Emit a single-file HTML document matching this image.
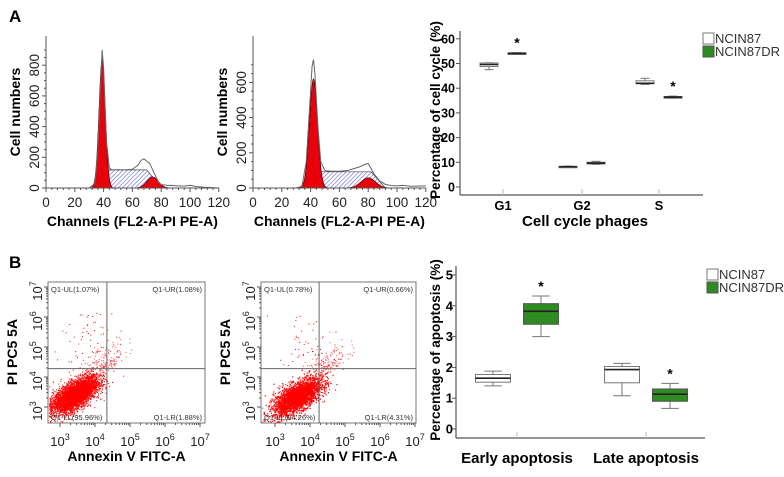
<!DOCTYPE html>
<html><head><meta charset="utf-8">
<style>
body{margin:0;background:#fff;}
svg{display:block;font-family:"Liberation Sans",Arial,sans-serif;}
.b{font-weight:bold;}
</style></head>
<body>
<svg id="fig" width="784" height="477" viewBox="0 0 784 477" xmlns="http://www.w3.org/2000/svg">
<defs>
<pattern id="hatch" patternUnits="userSpaceOnUse" width="3" height="3" patternTransform="rotate(45)">
<rect width="3" height="3" fill="#fff"/><line x1="0" y1="0" x2="0" y2="3" stroke="#6464d0" stroke-width="1.2"/>
</pattern>
</defs>
<text x="9" y="22" class="b" font-size="17">A</text>
<text x="9" y="268" class="b" font-size="17">B</text>
<g id="root"></g>
</svg>
<script>
// ---------- data ----------
// histogram model components: [G1 mean, G1 sd, G1 height, S start, S end, S level, G2 mean, G2 sd, G2 height]
const hist1Model = [39, 2.2, 840, 43, 70, 118, 74, 4, 72];
const hist2Model = [42, 2.8, 620, 47, 82, 92, 80, 5, 58];
// outline (channel, count)
const hist1OutlineX = [30,34,36,38,39,40,42,44,46,50,55,60,64,66,68,70,72,74,76,78,80,84,90,96,100,104,110,120];
const hist1OutlineY = [0,30,250,700,900,780,300,130,118,120,118,122,150,180,190,175,160,120,80,40,22,18,15,12,18,10,5,0];
const hist2OutlineX = [30,34,37,39,41,42,43,45,47,50,55,60,66,70,74,78,80,82,84,88,92,96,100,104,110,120];
const hist2OutlineY = [0,10,150,420,690,730,650,360,150,98,95,95,100,110,120,135,140,110,80,40,20,14,12,15,10,12];
const histTicksX = [0,20,40,60,80,100,120];
const hist1TicksY = [0,200,400,600,800];
const hist2TicksY = [0,200,400,600];

const ccCategories = ["G1","G2","S"];
// [min,q1,median,q3,max]
const ccNCIN87 = [[47.5,48.8,49.6,50.2,50.3],[7.9,8.0,8.2,8.4,8.5],[41.5,41.8,42.0,43.0,44.0]];
const ccNCIN87DR = [[53.8,54.0,54.1,54.3,54.4],[9.2,9.4,9.6,10.0,10.4],[36.0,36.2,36.4,36.6,36.8]];
const ccStars = [0,2];
const ccTicks = [0,10,20,30,40,50,60];

const apCategories = ["Early apoptosis","Late apoptosis"];
const apNCIN87 = [[1.40,1.52,1.65,1.77,1.88],[1.08,1.50,1.93,2.03,2.13]];
const apNCIN87DR = [[3.00,3.40,3.82,4.07,4.32],[0.67,0.90,1.13,1.30,1.48]];
const apTicks = [0,1,2,3,4,5];

const flow1Quadrants = ["Q1-UL(1.07%)","Q1-UR(1.08%)","Q1-LL(95.96%)","Q1-LR(1.88%)"];
const flow2Quadrants = ["Q1-UL(0.78%)","Q1-UR(0.66%)","Q1-LL(94.26%)","Q1-LR(4.31%)"];
// cluster center (log10 x, log10 y), sd x, sd y, correlation
const flow1Cluster = [3.43, 3.42, 0.32, 0.30, 0.65];
const flow2Cluster = [3.63, 3.35, 0.34, 0.30, 0.65];
const flow1Gate = [4.34, 4.28];
const flow2Gate = [4.26, 4.28];
const logTicks = [3,4,5,6,7];

// ---------- helpers ----------
const NS="http://www.w3.org/2000/svg";
const root=document.getElementById('root');
function mk(tag,attrs,parent){const e=document.createElementNS(NS,tag);for(const k in attrs)e.setAttribute(k,attrs[k]);(parent||root).appendChild(e);return e;}
function txt(x,y,s,size,extra,parent){const e=mk('text',Object.assign({x:x,y:y,'font-size':size},extra||{}),parent);e.textContent=s;return e;}

// ---------- histograms ----------
function histogram(ox,model,oX,oY,ticksY,yPerUnit,name){
  const g=mk('g',{});
  
  
  const x0=ox, y0=188, xs=1.44;
  const X=c=>x0+c*xs, Y=v=>y0-v*yPerUnit;
  const [m1,s1,h1,sa,sb,sl,m2,s2,h2]=model;
  const gauss=(c,m,s,h)=>h*Math.exp(-0.5*((c-m)/s)**2);
  let sp=[];
  for(let c=sa-8;c<=sb+10;c+=0.5){
    let v=sl;
    if(c<sa) v=sl*Math.max(0,(c-(sa-8))/8);
    if(c>sb) v=sl*Math.max(0,1-(c-sb)/10);
    sp.push(X(c)+','+Y(v));
  }
  const s=mk('polygon',{points:X(sa-8)+','+y0+' '+sp.join(' ')+' '+X(sb+10)+','+y0,fill:'url(#hatch)',stroke:'#444','stroke-width':0.7},g);
  
  
  function peak(m,sd,h,n){
    let p=[];for(let c=m-4*sd;c<=m+4*sd;c+=0.25)p.push(X(c)+','+Y(gauss(c,m,sd,h)));
    const e=mk('polygon',{points:X(m-4*sd)+','+y0+' '+p.join(' ')+' '+X(m+4*sd)+','+y0,fill:'#e8000b',stroke:'#300','stroke-width':0.6},g);
    
    
  }
  peak(m1,s1,h1,'g1-peak');peak(m2,s2,h2,'g2-peak');
  const ol=mk('polyline',{points:oX.map((c,i)=>X(c)+','+Y(oY[i])).join(' '),fill:'none',stroke:'#666','stroke-width':1},g);
  
  
  mk('line',{x1:x0,y1:36,x2:x0,y2:y0,stroke:'#555','stroke-width':1},g);
  mk('line',{x1:x0,y1:y0,x2:X(120),y2:y0,stroke:'#555','stroke-width':1},g);
  for(let c=0;c<=120;c+=4){mk('line',{x1:X(c),y1:y0,x2:X(c),y2:y0+(c%20==0?4:2),stroke:'#555'},g);}
  histTicksX.forEach(t=>{const e=txt(X(t),207,String(t),13.5,{'text-anchor':'middle',fill:'#222'},g);});
  for(let v=0;v<=ticksY[ticksY.length-1]+100;v+=50){if(Y(v)<36)break;mk('line',{x1:x0-(v%200==0?4:2),y1:Y(v),x2:x0,y2:Y(v),stroke:'#555'},g);}
  ticksY.forEach(t=>{const e=txt(0,0,String(t),13.5,{'text-anchor':'middle',fill:'#222',transform:`translate(${x0-7},${Y(t)}) rotate(-90)`},g);});
  const yt=txt(0,0,'Cell numbers',14,{'text-anchor':'middle',class:'b',transform:`translate(${x0-26},112) rotate(-90)`},g);
  
  const xt=txt(X(60),226,'Channels (FL2-A-PI PE-A)',14,{'text-anchor':'middle',class:'b'},g);
  
}
histogram(46,hist1Model,hist1OutlineX,hist1OutlineY,hist1TicksY,0.1535,'histogram-ncin87');
histogram(253,hist2Model,hist2OutlineX,hist2OutlineY,hist2TicksY,0.176,'histogram-ncin87dr');

// ---------- box plots ----------
function boxplot(cfg){
  const g=mk('g',{});
  
  
  const Y=v=>cfg.y0-v*cfg.ppu;
  mk('line',{x1:cfg.ax,y1:cfg.top,x2:cfg.ax,y2:cfg.axY,stroke:'#555','stroke-width':1.2},g);
  mk('line',{x1:cfg.ax,y1:cfg.axY,x2:cfg.right,y2:cfg.axY,stroke:'#555','stroke-width':1.2},g);
  cfg.ticks.forEach(t=>{
    mk('line',{x1:cfg.ax-4,y1:Y(t),x2:cfg.ax,y2:Y(t),stroke:'#555'},g);
    const e=txt(cfg.ax-cfg.tgap,Y(t)+4.5,String(t),cfg.tsize,{'text-anchor':'end',class:'b'},g);
    
  });
  cfg.cats.forEach((c,i)=>{
    const cx=cfg.cx[i];
    mk('line',{x1:cx,y1:cfg.axY,x2:cx,y2:cfg.axY-6,stroke:'#bbb'},g);
    const e=txt(cx,cfg.catY,c,cfg.catSize,{'text-anchor':'middle',class:'b'},g);
    
    [[cfg.s1[i],-cfg.off,'#fff','#777','box-ncin87'],[cfg.s2[i],cfg.off,'#2e8b22','#555','box-ncin87dr']].forEach(([d,o,fill,st,n])=>{
      const bx=cx+o, w=cfg.bw;
      const bg=mk('g',{},g);
      
      
      mk('line',{x1:bx,y1:Y(d[0]),x2:bx,y2:Y(d[4]),stroke:'#777','stroke-width':1},bg);
      mk('line',{x1:bx-w/4,y1:Y(d[0]),x2:bx+w/4,y2:Y(d[0]),stroke:'#777'},bg);
      mk('line',{x1:bx-w/4,y1:Y(d[4]),x2:bx+w/4,y2:Y(d[4]),stroke:'#777'},bg);
      mk('rect',{x:bx-w/2,y:Y(d[3]),width:w,height:Math.max(1.5,Y(d[1])-Y(d[3])),fill:fill,stroke:st,'stroke-width':1},bg);
      mk('line',{x1:bx-w/2,y1:Y(d[2]),x2:bx+w/2,y2:Y(d[2]),stroke:'#222','stroke-width':1.6},bg);
    });
  });
  cfg.stars.forEach(i=>{const e=txt(cfg.cx[i]+cfg.off,Y(cfg.s2[i][4])-5,'*',14,{'text-anchor':'middle',class:'b'},g);});
  const yt=txt(0,0,cfg.ytitle,13.5,{'text-anchor':'middle',class:'b',transform:`translate(${cfg.ytx},${cfg.yty}) rotate(-90)`},g);
  
  if(cfg.xtitle){const xt=txt(cfg.xtx,cfg.xty,cfg.xtitle,15,{'text-anchor':'middle',class:'b'},g);}
  const lg=mk('g',{},g);
  
  
  const l1=mk('g',{},lg);
  
  
  mk('rect',{x:cfg.lx,y:cfg.ly,width:11,height:11,fill:'#fff',stroke:'#777'},l1);
  txt(cfg.lx+12,cfg.ly+10,'NCIN87',13,{fill:'#333'},l1);
  const l2=mk('g',{},lg);
  
  
  mk('rect',{x:cfg.lx,y:cfg.ly+13,width:11,height:11,fill:'#2e8b22',stroke:'#555'},l2);
  txt(cfg.lx+12,cfg.ly+23,'NCIN87DR',13,{fill:'#333'},l2);
}
boxplot({name:'cell-cycle-boxplot',ax:460,top:31,axY:195,right:703,y0:187,ppu:2.47,ticks:ccTicks,tgap:5,tsize:12.5,cats:ccCategories,cx:[503,582,659],off:14,bw:18,
  s1:ccNCIN87,s2:ccNCIN87DR,stars:ccStars,catY:210,catSize:13,ytitle:'Percentage of cell cycle (%)',ytx:440,yty:110,xtitle:'Cell cycle phages',xtx:585,xty:226,lx:703,ly:33});
boxplot({name:'apoptosis-boxplot',ax:456,top:266,axY:438,right:705,y0:429,ppu:30.8,ticks:apTicks,tgap:3,tsize:13,cats:apCategories,cx:[517,646],off:24,bw:35,
  s1:apNCIN87,s2:apNCIN87DR,stars:[0,1],catY:463,catSize:15,ytitle:'Percentage of apoptosis (%)',ytx:440,yty:350,xtitle:'',lx:707,ly:269});

// ---------- flow cytometry ----------
let seed=12345;
function rnd(){seed=(seed*1103515245+12345)%2147483648;return seed/2147483648;}
function nrm(){let u=rnd()||1e-6,v=rnd();return Math.sqrt(-2*Math.log(u))*Math.cos(2*Math.PI*v);}
function flow(bx,right,x3,name,quads,cluster,gate){
  const g=mk('g',{});
  
  
  const top=282, bot=423;
  const X=l=>x3+(l-3)*35, Y=l=>407-(l-3)*30;
  mk('rect',{x:bx,y:top,width:right-bx,height:bot-top,fill:'#fff',stroke:'#777','stroke-width':1},g);
  const dots=mk('g',{fill:'#f00'},g);
  
  
  const [mx,my,sx,sy,r]=cluster;
  for(let i=0;i<5000;i++){
    const a=nrm(),b=nrm();
    let lx=mx+sx*a, ly=my+sy*(r*a+Math.sqrt(1-r*r)*b);
    let px=X(lx),py=Y(ly);
    if(px<bx+1)px=bx+1+rnd()*2;
    if(py>bot-1)py=bot-1-rnd()*2;
    if(px>right||py<top)continue;
    mk('rect',{x:px.toFixed(1),y:py.toFixed(1),width:1.1,height:1.1,opacity:0.85},dots);
  }
  for(let i=0;i<220;i++){
    const a=nrm(),b=nrm();
    const lx=mx+0.7+0.35*a, ly=my+0.6+0.45*Math.abs(b)+0.3*a;
    const px=X(lx),py=Y(ly);
    if(px>bx&&px<right&&py>top&&py<bot)mk('rect',{x:px.toFixed(1),y:py.toFixed(1),width:1,height:1,opacity:0.7},dots);
  }
  for(let i=0;i<50;i++){
    const px=X(mx+0.3+0.5*nrm()), py=Y(my+1+1.8*rnd());
    if(px>bx&&px<right&&py>top&&py<bot)mk('rect',{x:px.toFixed(1),y:py.toFixed(1),width:1,height:1},dots);
  }
  const gx=X(gate[0]), gy=Y(gate[1]);
  mk('line',{x1:gx,y1:top,x2:gx,y2:bot,stroke:'#666'},g);
  mk('line',{x1:bx,y1:gy,x2:right,y2:gy,stroke:'#666'},g);
  const qa=[[bx+3,top+10,'start'],[right-3,top+10,'end'],[bx+3,bot-3,'start'],[right-3,bot-3,'end']];
  quads.forEach((q,i)=>{const e=txt(qa[i][0],qa[i][1],q,7.5,{'text-anchor':qa[i][2],fill:'#333'},g);});
  logTicks.forEach(t=>{
    const px=X(t);
    const e=txt(px,446,'10',13,{'text-anchor':'middle',fill:'#222'},g);
    const sp=document.createElementNS(NS,'tspan');sp.setAttribute('dy','-6');sp.setAttribute('font-size','9');sp.textContent=String(t);e.appendChild(sp);
    
    const py=Y(t);
    const f=txt(0,0,'10',13,{'text-anchor':'middle',fill:'#222',transform:`translate(${bx-6},${py+4}) rotate(-90)`},g);
    const sp2=document.createElementNS(NS,'tspan');sp2.setAttribute('dy','-6');sp2.setAttribute('font-size','9');sp2.textContent=String(t);f.appendChild(sp2);
    
    for(let k=1;k<10;k++){const l=t+Math.log10(k);
      if(X(l)<right&&X(l)>bx)mk('line',{x1:X(l),y1:bot,x2:X(l),y2:bot+(k==1?4:2),stroke:'#555'},g);
      if(Y(l)>top&&Y(l)<bot)mk('line',{x1:bx-(k==1?4:2),y1:Y(l),x2:bx,y2:Y(l),stroke:'#555'},g);}
  });
  const xt=txt((bx+right)/2,461,'Annexin V FITC-A',14,{'text-anchor':'middle',class:'b'},g);
  
  const yt=txt(0,0,'PI PC5 5A',14,{'text-anchor':'middle',class:'b',transform:`translate(${bx-31},352) rotate(-90)`},g);
  
}
flow(48,205,60,'flow-scatter-ncin87',flow1Quadrants,flow1Cluster,flow1Gate);
flow(261,416,275,'flow-scatter-ncin87dr',flow2Quadrants,flow2Cluster,flow2Gate);
</script>
</body></html>
